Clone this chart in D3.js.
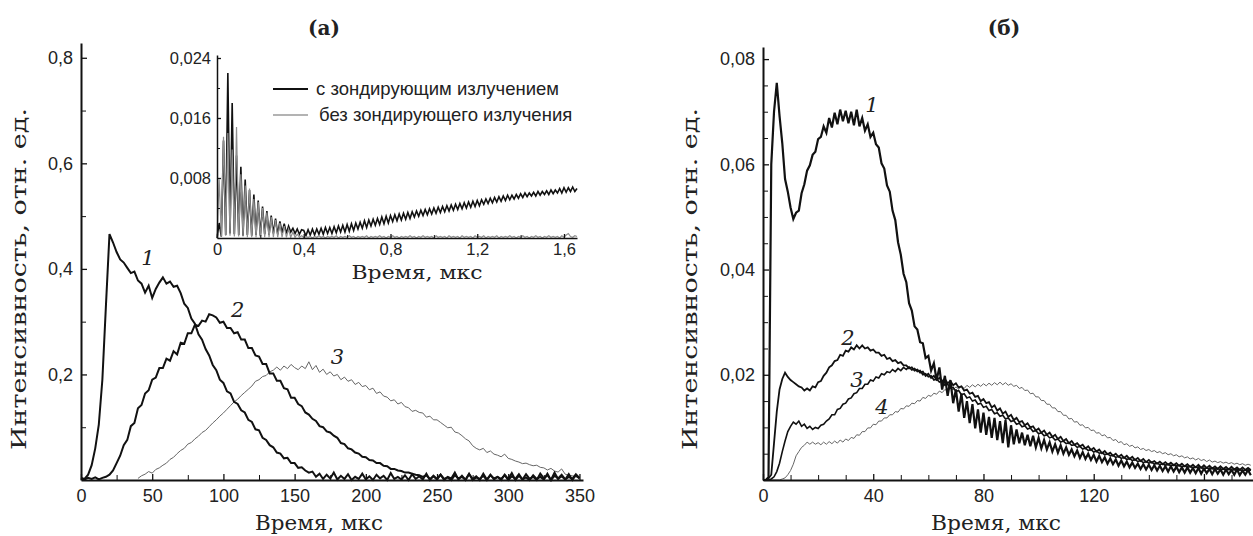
<!DOCTYPE html>
<html>
<head>
<meta charset="utf-8">
<script src="https://cdn.jsdelivr.net/npm/d3@7"></script>
<style>
  body { margin: 0; background: #fff; }
  svg { display: block; }
  .tick text { font-family: "Liberation Sans", Arial, sans-serif; fill: #222; }
  .axis path, .axis line { stroke: #111; }
  .serif { font-family: "DejaVu Serif", "Liberation Serif", serif; fill: #222; }
</style>
</head>
<body>
<div id="chart"></div>
<script>
// ---------- (а) main panel: time grid 0..350 мкс, step 2.5 ----------
const leftTime = d3.range(0, 351, 2.5);
const leftCurve1 = [
  0.004, 0.002, 0.010, 0.028, 0.060, 0.105, 0.190, 0.330, 0.466, 0.450,
  0.432, 0.418, 0.412, 0.402, 0.392, 0.395, 0.378, 0.372, 0.355, 0.368,
  0.345, 0.362, 0.374, 0.384, 0.372, 0.376, 0.366, 0.368, 0.354, 0.334,
  0.326, 0.306, 0.296, 0.276, 0.266, 0.248, 0.236, 0.218, 0.208, 0.190,
  0.184, 0.168, 0.164, 0.148, 0.144, 0.132, 0.128, 0.114, 0.110, 0.096,
  0.094, 0.080, 0.076, 0.066, 0.062, 0.052, 0.050, 0.041, 0.042, 0.032,
  0.032, 0.023, 0.024, 0.018, 0.014, 0.016, 0.006, 0.012, 0.002, 0.010,
  0.003, 0.014, 0.001, 0.008, 0.002, 0.011, 0.000, 0.006, 0.002, 0.012,
  0.001, 0.007, 0.000, 0.010, 0.003, 0.008, 0.000, 0.013, 0.002, 0.006,
  0.001, 0.009, 0.000, 0.011, 0.002, 0.007, 0.001, 0.012, 0.000, 0.008,
  0.002, 0.010, 0.000, 0.006, 0.003, 0.014, 0.001, 0.008, 0.000, 0.011,
  0.002, 0.007, 0.000, 0.012, 0.001, 0.009, 0.003, 0.006, 0.000, 0.010,
  0.002, 0.013, 0.000, 0.008, 0.001, 0.011, 0.002, 0.006, 0.000, 0.012,
  0.003, 0.009, 0.000, 0.014, 0.002, 0.007, 0.001, 0.011, 0.000, 0.009,
  0.003
];
const leftCurve2 = [
  0.003, 0.001, 0.004, 0.002, 0.005, 0.001, 0.004, 0.006, 0.010, 0.018,
  0.032, 0.046, 0.066, 0.076, 0.102, 0.108, 0.136, 0.142, 0.164, 0.170,
  0.190, 0.194, 0.212, 0.212, 0.230, 0.226, 0.244, 0.238, 0.260, 0.258,
  0.278, 0.278, 0.294, 0.292, 0.302, 0.300, 0.314, 0.312, 0.308, 0.298,
  0.300, 0.288, 0.288, 0.278, 0.280, 0.266, 0.266, 0.250, 0.250, 0.236,
  0.234, 0.220, 0.220, 0.202, 0.202, 0.188, 0.188, 0.174, 0.172, 0.156,
  0.156, 0.144, 0.140, 0.128, 0.124, 0.116, 0.112, 0.102, 0.100, 0.092,
  0.090, 0.084, 0.080, 0.070, 0.068, 0.060, 0.058, 0.052, 0.050, 0.044,
  0.043, 0.038, 0.037, 0.032, 0.032, 0.027, 0.026, 0.021, 0.021, 0.018,
  0.017, 0.014, 0.014, 0.012, 0.010, 0.009, 0.006, 0.009, 0.002, 0.007,
  0.001, 0.010, 0.002, 0.005, 0.000, 0.009, 0.003, 0.006, 0.001, 0.012,
  0.000, 0.005, 0.002, 0.008, 0.000, 0.010, 0.001, 0.006, 0.002, 0.009,
  0.000, 0.007, 0.002, 0.011, 0.001, 0.005, 0.000, 0.009, 0.002, 0.006,
  0.001, 0.012, 0.000, 0.008, 0.003, 0.010, 0.001, 0.006, 0.002, 0.011,
  0.004
];
const leftCurve3 = [
  null, null, null, null, null, null, null, null, null, null,
  null, null, null, null, null, null, 0.003, 0.008, 0.011, 0.016,
  0.013, 0.020, 0.023, 0.028, 0.032, 0.039, 0.043, 0.050, 0.056, 0.060,
  0.068, 0.071, 0.078, 0.083, 0.090, 0.094, 0.101, 0.108, 0.114, 0.121,
  0.127, 0.134, 0.141, 0.148, 0.153, 0.160, 0.166, 0.172, 0.178, 0.187,
  0.190, 0.196, 0.198, 0.205, 0.208, 0.214, 0.208, 0.216, 0.211, 0.219,
  0.213, 0.209, 0.216, 0.211, 0.224, 0.209, 0.217, 0.204, 0.210, 0.200,
  0.205, 0.197, 0.200, 0.190, 0.195, 0.187, 0.190, 0.181, 0.185, 0.177,
  0.179, 0.171, 0.174, 0.164, 0.167, 0.159, 0.157, 0.150, 0.152, 0.144,
  0.147, 0.139, 0.137, 0.130, 0.132, 0.128, 0.127, 0.119, 0.121, 0.114,
  0.114, 0.109, 0.104, 0.099, 0.100, 0.091, 0.089, 0.084, 0.078, 0.074,
  0.065, 0.060, 0.057, 0.060, 0.052, 0.055, 0.049, 0.047, 0.044, 0.049,
  0.041, 0.039, 0.036, 0.034, 0.031, 0.032, 0.029, 0.027, 0.028, 0.024,
  0.023, 0.019, 0.022, 0.017, 0.015, 0.021, 0.011, 0.009, 0.008, 0.006,
  0.004
];
const leftYTicks = [0.2, 0.4, 0.6, 0.8];
const leftXTicks = [0, 50, 100, 150, 200, 250, 300, 350];

// ---------- inset: time grid 0..1.66 мкс, step 0.01 ----------
const insetTime = d3.range(0, 1.665, 0.01);
const insetWithProbe = [
  0.0000, 0.0020, 0.0002, 0.0130, 0.0004, 0.0220, 0.0006, 0.0180, 0.0005, 0.0110,
  0.0004, 0.0095, 0.0003, 0.0078, 0.0004, 0.0064, 0.0003, 0.0058, 0.0004, 0.0050,
  0.0003, 0.0042, 0.0005, 0.0036, 0.0004, 0.0030, 0.0006, 0.0026, 0.0005, 0.0022,
  0.0007, 0.0019, 0.0006, 0.0016, 0.0008, 0.0013, 0.0006, 0.0012, 0.0005, 0.0011,
  0.0010, 0.0003, 0.0011, 0.0004, 0.0012, 0.0004, 0.0012, 0.0005, 0.0013, 0.0005,
  0.0014, 0.0006, 0.0014, 0.0006, 0.0015, 0.0007, 0.0016, 0.0008, 0.0017, 0.0008,
  0.0018, 0.0009, 0.0019, 0.0010, 0.0020, 0.0012, 0.0021, 0.0013, 0.0023, 0.0014,
  0.0024, 0.0016, 0.0025, 0.0017, 0.0026, 0.0018, 0.0028, 0.0019, 0.0029, 0.0020,
  0.0030, 0.0022, 0.0031, 0.0023, 0.0032, 0.0024, 0.0033, 0.0025, 0.0034, 0.0026,
  0.0035, 0.0028, 0.0036, 0.0029, 0.0037, 0.0030, 0.0038, 0.0031, 0.0039, 0.0032,
  0.0040, 0.0033, 0.0041, 0.0034, 0.0042, 0.0035, 0.0043, 0.0036, 0.0044, 0.0037,
  0.0045, 0.0038, 0.0046, 0.0039, 0.0047, 0.0040, 0.0048, 0.0041, 0.0049, 0.0042,
  0.0050, 0.0043, 0.0051, 0.0045, 0.0052, 0.0046, 0.0053, 0.0047, 0.0054, 0.0048,
  0.0055, 0.0049, 0.0056, 0.0050, 0.0057, 0.0051, 0.0057, 0.0052, 0.0058, 0.0053,
  0.0059, 0.0054, 0.0060, 0.0055, 0.0060, 0.0056, 0.0061, 0.0056, 0.0062, 0.0057,
  0.0062, 0.0058, 0.0063, 0.0058, 0.0064, 0.0059, 0.0064, 0.0060, 0.0066, 0.0060,
  0.0067, 0.0061, 0.0067, 0.0062, 0.0068, 0.0062, 0.0066
];
const insetWithoutProbe = [
  0.0000, 0.0078, 0.0002, 0.0135, 0.0003, 0.0140, 0.0003, 0.0118, 0.0002, 0.0148,
  0.0002, 0.0085, 0.0002, 0.0070, 0.0001, 0.0066, 0.0001, 0.0052, 0.0001, 0.0048,
  0.0001, 0.0040, 0.0001, 0.0034, 0.0001, 0.0028, 0.0001, 0.0024, 0.0001, 0.0020,
  0.0001, 0.0016, 0.0001, 0.0012, 0.0001, 0.0008, 0.0001, 0.0005, 0.0001, 0.0003,
  0.0001, 0.0002, 0.0001, 0.0002, 0.0000, 0.0002, 0.0001, 0.0003, 0.0001, 0.0002,
  0.0000, 0.0002, 0.0001, 0.0002, 0.0001, 0.0003, 0.0000, 0.0002, 0.0001, 0.0002,
  0.0001, 0.0003, 0.0001, 0.0002, 0.0000, 0.0002, 0.0001, 0.0002, 0.0001, 0.0003,
  0.0000, 0.0002, 0.0001, 0.0002, 0.0001, 0.0003, 0.0001, 0.0002, 0.0000, 0.0002,
  0.0001, 0.0003, 0.0001, 0.0002, 0.0000, 0.0002, 0.0001, 0.0002, 0.0001, 0.0003,
  0.0001, 0.0002, 0.0000, 0.0002, 0.0001, 0.0003, 0.0001, 0.0002, 0.0001, 0.0002,
  0.0000, 0.0003, 0.0001, 0.0002, 0.0001, 0.0002, 0.0000, 0.0003, 0.0001, 0.0002,
  0.0001, 0.0002, 0.0000, 0.0003, 0.0001, 0.0002, 0.0001, 0.0002, 0.0000, 0.0003,
  0.0001, 0.0002, 0.0001, 0.0003, 0.0000, 0.0002, 0.0001, 0.0002, 0.0001, 0.0003,
  0.0000, 0.0002, 0.0001, 0.0002, 0.0001, 0.0003, 0.0001, 0.0002, 0.0000, 0.0002,
  0.0001, 0.0003, 0.0001, 0.0002, 0.0000, 0.0002, 0.0001, 0.0003, 0.0001, 0.0002,
  0.0000, 0.0002, 0.0001, 0.0003, 0.0001, 0.0002, 0.0001, 0.0002, 0.0000, 0.0003,
  0.0001, 0.0004, 0.0006, 0.0002, 0.0001, 0.0003, 0.0002
];
const insetYTicks = [0.008, 0.016, 0.024];
const insetXTicks = [0, 0.4, 0.8, 1.2, 1.6];
const insetLegend = ["с зондирующим излучением", "без зондирующего излучения"];

// ---------- (б) panel: time grid 0..177 мкс, step 1 ----------
const rightTime = d3.range(0, 178, 1);
const rightCurve1 = [
  0, 0, 0.0005, 0.0600, 0.0700, 0.0755, 0.0692, 0.0640, 0.0572, 0.0548,
  0.0518, 0.0496, 0.0508, 0.0512, 0.0545, 0.0562, 0.0588, 0.0598, 0.0618, 0.0624,
  0.0648, 0.0652, 0.0672, 0.0660, 0.0688, 0.0670, 0.0698, 0.0676, 0.0704, 0.0682,
  0.0702, 0.0678, 0.0700, 0.0674, 0.0704, 0.0672, 0.0688, 0.0664, 0.0676, 0.0652,
  0.0660, 0.0638, 0.0632, 0.0602, 0.0592, 0.0560, 0.0548, 0.0512, 0.0494, 0.0452,
  0.0428, 0.0392, 0.0376, 0.0336, 0.0322, 0.0292, 0.0286, 0.0262, 0.0260, 0.0232,
  0.0236, 0.0208, 0.0222, 0.0190, 0.0214, 0.0172, 0.0198, 0.0160, 0.0190, 0.0146,
  0.0172, 0.0130, 0.0164, 0.0118, 0.0150, 0.0108, 0.0144, 0.0098, 0.0134, 0.0090,
  0.0128, 0.0086, 0.0120, 0.0080, 0.0118, 0.0076, 0.0112, 0.0070, 0.0114, 0.0062,
  0.0104, 0.0068, 0.0096, 0.0070, 0.0090, 0.0066, 0.0086, 0.0064, 0.0084, 0.0062,
  0.0080, 0.0060, 0.0076, 0.0058, 0.0072, 0.0054, 0.0068, 0.0052, 0.0066, 0.0050,
  0.0062, 0.0048, 0.0058, 0.0045, 0.0056, 0.0042, 0.0053, 0.0040, 0.0050, 0.0038,
  0.0048, 0.0035, 0.0046, 0.0034, 0.0043, 0.0031, 0.0041, 0.0030, 0.0039, 0.0027,
  0.0037, 0.0026, 0.0035, 0.0024, 0.0033, 0.0023, 0.0031, 0.0021, 0.0030, 0.0020,
  0.0029, 0.0019, 0.0028, 0.0018, 0.0027, 0.0017, 0.0026, 0.0016, 0.0026, 0.0016,
  0.0025, 0.0015, 0.0024, 0.0014, 0.0024, 0.0014, 0.0023, 0.0013, 0.0023, 0.0012,
  0.0022, 0.0013, 0.0021, 0.0011, 0.0021, 0.0012, 0.0020, 0.0010, 0.0020, 0.0011,
  0.0019, 0.0010, 0.0020, 0.0009, 0.0018, 0.0010, 0.0019, 0.0009
];
const rightCurve2 = [
  0, 0, 0.0003, 0.0010, 0.0070, 0.0130, 0.0172, 0.0192, 0.0204, 0.0196,
  0.0190, 0.0186, 0.0182, 0.0178, 0.0176, 0.0170, 0.0174, 0.0170, 0.0178, 0.0176,
  0.0186, 0.0188, 0.0198, 0.0204, 0.0214, 0.0218, 0.0226, 0.0228, 0.0238, 0.0236,
  0.0246, 0.0244, 0.0252, 0.0248, 0.0256, 0.0250, 0.0256, 0.0250, 0.0252, 0.0246,
  0.0248, 0.0242, 0.0242, 0.0236, 0.0238, 0.0230, 0.0232, 0.0226, 0.0228, 0.0222,
  0.0224, 0.0218, 0.0218, 0.0212, 0.0214, 0.0208, 0.0210, 0.0204, 0.0206, 0.0198,
  0.0202, 0.0194, 0.0198, 0.0190, 0.0194, 0.0188, 0.0192, 0.0184, 0.0188, 0.0180,
  0.0184, 0.0176, 0.0178, 0.0170, 0.0172, 0.0164, 0.0166, 0.0158, 0.0160, 0.0150,
  0.0154, 0.0146, 0.0148, 0.0138, 0.0142, 0.0132, 0.0136, 0.0126, 0.0130, 0.0120,
  0.0124, 0.0114, 0.0118, 0.0110, 0.0112, 0.0104, 0.0108, 0.0100, 0.0102, 0.0094,
  0.0098, 0.0090, 0.0094, 0.0086, 0.0090, 0.0082, 0.0086, 0.0078, 0.0082, 0.0074,
  0.0078, 0.0070, 0.0074, 0.0067, 0.0070, 0.0064, 0.0067, 0.0060, 0.0064, 0.0057,
  0.0061, 0.0054, 0.0058, 0.0051, 0.0055, 0.0049, 0.0052, 0.0046, 0.0050, 0.0044,
  0.0048, 0.0042, 0.0046, 0.0040, 0.0044, 0.0038, 0.0042, 0.0036, 0.0040, 0.0034,
  0.0038, 0.0033, 0.0036, 0.0031, 0.0035, 0.0030, 0.0034, 0.0029, 0.0033, 0.0028,
  0.0032, 0.0027, 0.0031, 0.0026, 0.0030, 0.0025, 0.0029, 0.0024, 0.0029, 0.0023,
  0.0028, 0.0023, 0.0027, 0.0022, 0.0026, 0.0021, 0.0026, 0.0021, 0.0025, 0.0020,
  0.0025, 0.0020, 0.0024, 0.0019, 0.0024, 0.0019, 0.0023, 0.0019
];
const rightCurve3 = [
  0, 0, 0, 0.0002, 0.0006, 0.0016, 0.0032, 0.0054, 0.0074, 0.0092,
  0.0102, 0.0110, 0.0106, 0.0112, 0.0102, 0.0106, 0.0098, 0.0102, 0.0096, 0.0100,
  0.0098, 0.0104, 0.0106, 0.0112, 0.0116, 0.0124, 0.0124, 0.0134, 0.0136, 0.0144,
  0.0146, 0.0154, 0.0156, 0.0164, 0.0166, 0.0174, 0.0174, 0.0182, 0.0182, 0.0190,
  0.0188, 0.0196, 0.0194, 0.0202, 0.0200, 0.0206, 0.0204, 0.0210, 0.0206, 0.0212,
  0.0208, 0.0214, 0.0210, 0.0215, 0.0209, 0.0212, 0.0206, 0.0208, 0.0200, 0.0202,
  0.0196, 0.0198, 0.0190, 0.0192, 0.0186, 0.0188, 0.0180, 0.0182, 0.0175, 0.0176,
  0.0168, 0.0170, 0.0162, 0.0164, 0.0156, 0.0158, 0.0150, 0.0152, 0.0144, 0.0146,
  0.0138, 0.0140, 0.0132, 0.0134, 0.0126, 0.0128, 0.0121, 0.0123, 0.0116, 0.0118,
  0.0111, 0.0113, 0.0106, 0.0108, 0.0101, 0.0103, 0.0097, 0.0099, 0.0092, 0.0094,
  0.0088, 0.0090, 0.0084, 0.0086, 0.0080, 0.0082, 0.0076, 0.0078, 0.0072, 0.0074,
  0.0069, 0.0071, 0.0066, 0.0067, 0.0062, 0.0064, 0.0059, 0.0061, 0.0056, 0.0058,
  0.0053, 0.0055, 0.0051, 0.0052, 0.0048, 0.0050, 0.0046, 0.0047, 0.0043, 0.0045,
  0.0041, 0.0043, 0.0039, 0.0041, 0.0037, 0.0039, 0.0035, 0.0037, 0.0033, 0.0035,
  0.0032, 0.0034, 0.0030, 0.0032, 0.0029, 0.0031, 0.0028, 0.0030, 0.0027, 0.0029,
  0.0026, 0.0028, 0.0025, 0.0027, 0.0024, 0.0026, 0.0023, 0.0025, 0.0022, 0.0024,
  0.0021, 0.0023, 0.0021, 0.0022, 0.0020, 0.0022, 0.0019, 0.0021, 0.0019, 0.0021,
  0.0018, 0.0020, 0.0018, 0.0020, 0.0017, 0.0019, 0.0017, 0.0019
];
const rightCurve4 = [
  0, 0, 0, 0, 0, 0, 0, 0.0002, 0.0004, 0.0010,
  0.0018, 0.0030, 0.0046, 0.0054, 0.0062, 0.0066, 0.0072, 0.0068, 0.0072, 0.0068,
  0.0071, 0.0067, 0.0072, 0.0068, 0.0073, 0.0069, 0.0074, 0.0070, 0.0076, 0.0072,
  0.0078, 0.0075, 0.0081, 0.0079, 0.0086, 0.0085, 0.0092, 0.0092, 0.0099, 0.0099,
  0.0106, 0.0105, 0.0112, 0.0112, 0.0118, 0.0118, 0.0124, 0.0124, 0.0130, 0.0129,
  0.0136, 0.0135, 0.0141, 0.0140, 0.0146, 0.0145, 0.0151, 0.0150, 0.0157, 0.0155,
  0.0161, 0.0159, 0.0165, 0.0163, 0.0169, 0.0166, 0.0172, 0.0169, 0.0175, 0.0171,
  0.0177, 0.0173, 0.0178, 0.0174, 0.0180, 0.0176, 0.0181, 0.0177, 0.0182, 0.0178,
  0.0183, 0.0179, 0.0184, 0.0180, 0.0185, 0.0181, 0.0186, 0.0181, 0.0185, 0.0180,
  0.0183, 0.0178, 0.0180, 0.0174, 0.0176, 0.0170, 0.0171, 0.0164, 0.0165, 0.0158,
  0.0158, 0.0151, 0.0151, 0.0144, 0.0144, 0.0137, 0.0137, 0.0130, 0.0130, 0.0123,
  0.0123, 0.0116, 0.0117, 0.0110, 0.0111, 0.0104, 0.0105, 0.0099, 0.0100, 0.0094,
  0.0095, 0.0089, 0.0090, 0.0084, 0.0086, 0.0080, 0.0081, 0.0075, 0.0077, 0.0071,
  0.0073, 0.0067, 0.0069, 0.0064, 0.0066, 0.0061, 0.0063, 0.0058, 0.0060, 0.0056,
  0.0058, 0.0054, 0.0056, 0.0052, 0.0054, 0.0050, 0.0052, 0.0048, 0.0050, 0.0046,
  0.0048, 0.0044, 0.0046, 0.0042, 0.0044, 0.0040, 0.0042, 0.0038, 0.0041, 0.0037,
  0.0039, 0.0035, 0.0038, 0.0034, 0.0036, 0.0033, 0.0035, 0.0032, 0.0034, 0.0031,
  0.0033, 0.0030, 0.0032, 0.0029, 0.0031, 0.0028, 0.0030, 0.0028
];
const rightYTicks = [0.02, 0.04, 0.06, 0.08];
const rightXTicks = [0, 40, 80, 120, 160];

const xLabel = "Время, мкс";
const yLabel = "Интенсивность, отн. ед.";

// ---------- drawing ----------
const W = 1253, H = 536;
const svg = d3.select("#chart").append("svg").attr("width", W).attr("height", H);
const ru = d3.formatLocale({ decimal: ",", thousands: " ", grouping: [3], currency: ["", ""] });

function zip(ts, vs) { return ts.map((t, i) => [t, vs[i]]); }

function drawAxes(x, y, opt) {
    // minor ticks
    svg.append("g").attr("class", "axis")
        .attr("transform", `translate(0,${y.range()[0]})`)
        .call(d3.axisBottom(x).tickValues(opt.xMinor).tickSize(-opt.minor).tickSizeOuter(0).tickFormat(""))
        .call(g => g.select(".domain").remove());
    svg.append("g").attr("class", "axis")
        .attr("transform", `translate(${x.range()[0]},0)`)
        .call(d3.axisLeft(y).tickValues(opt.yMinor).tickSize(-opt.minor).tickSizeOuter(0).tickFormat(""))
        .call(g => g.select(".domain").remove());
    // major ticks + domains
    const gx = svg.append("g").attr("class", "axis")
        .attr("transform", `translate(0,${y.range()[0]})`)
        .call(d3.axisBottom(x).tickValues(opt.xTicks).tickSize(-opt.major).tickSizeOuter(0)
            .tickPadding(opt.xPad).tickFormat(opt.xFmt));
    gx.select(".domain").attr("stroke-width", opt.sw);
    gx.selectAll(".tick line").attr("stroke-width", 1.3);
    gx.selectAll(".tick text").style("font-size", opt.fs + "px");
    const gy = svg.append("g").attr("class", "axis")
        .attr("transform", `translate(${x.range()[0]},0)`)
        .call(d3.axisLeft(y).tickValues(opt.yTicks).tickSize(-opt.major).tickSizeOuter(0)
            .tickPadding(opt.yPad).tickFormat(opt.yFmt));
    gy.select(".domain").attr("stroke-width", opt.sw);
    gy.selectAll(".tick line").attr("stroke-width", 1.3);
    gy.selectAll(".tick text").style("font-size", opt.fs + "px");
}

function drawLine(x, y, data, color, width) {
    const line = d3.line()
        .defined(d => d[1] != null)
        .x(d => x(d[0]))
        .y(d => y(d[1]));
    svg.append("path").datum(data)
        .attr("fill", "none").attr("stroke", color).attr("stroke-width", width)
        .attr("stroke-linejoin", "miter").attr("d", line);
}

function label(txt, x, y, size, len) {
    const t = svg.append("text").attr("class", "serif").attr("x", x).attr("y", y)
        .attr("text-anchor", "middle").style("font-size", size + "px").text(txt);
    if (len) t.attr("textLength", len).attr("lengthAdjust", "spacingAndGlyphs");
    return t;
}

// (а) main
const xL = d3.scaleLinear().domain([0, 352.5]).range([81, 583]);
const yL = d3.scaleLinear().domain([0, 0.828]).range([480, 43]);
drawLine(xL, yL, zip(leftTime, leftCurve3), "#666", 1);
drawLine(xL, yL, zip(leftTime, leftCurve2), "#111", 2);
drawLine(xL, yL, zip(leftTime, leftCurve1), "#111", 2);
drawAxes(xL, yL, {
    xTicks: leftXTicks, xMinor: d3.range(25, 351, 50),
    yTicks: leftYTicks, yMinor: [0.1, 0.3, 0.5, 0.7],
    major: 6, minor: 5, sw: 2, xPad: 9, yPad: 8, fs: 18,
    xFmt: ru.format("d"), yFmt: ru.format(".1f")
});

// inset: black trace first, grey trace drawn over it
const xI = d3.scaleLinear().domain([0, 1.66]).range([217, 577]);
const yI = d3.scaleLinear().domain([0, 0.0244]).range([238, 55]);
drawLine(xI, yI, zip(insetTime, insetWithProbe), "#111", 1.6);
drawLine(xI, yI, zip(insetTime, insetWithoutProbe), "#8f8f8f", 1.2);
drawAxes(xI, yI, {
    xTicks: insetXTicks, xMinor: [0.2, 0.6, 1.0, 1.4],
    yTicks: insetYTicks, yMinor: [0.004, 0.012, 0.020],
    major: 4, minor: 3, sw: 1.5, xPad: 5, yPad: 6, fs: 16.5,
    xFmt: d => d === 0 ? "0" : ru.format(".1f")(d), yFmt: ru.format(".3f")
});

// inset legend
const legend = svg.append("g").attr("transform", "translate(273,89)");
insetLegend.forEach((name, i) => {
    const row = legend.append("g").attr("transform", `translate(0,${i * 26})`);
    row.append("line").attr("x1", 0).attr("x2", 35).attr("y1", 0).attr("y2", 0)
        .attr("stroke", i === 0 ? "#111" : "#9a9a9a").attr("stroke-width", i === 0 ? 2 : 1.3);
    row.append("text").attr("x", i === 0 ? 43 : 46).attr("y", 6)
        .style("font-family", '"Liberation Sans", Arial, sans-serif')
        .style("font-size", "18.5px").style("fill", "#222").text(name);
});

// (б)
const xR = d3.scaleLinear().domain([0, 177.8]).range([763, 1253]);
const yR = d3.scaleLinear().domain([0, 0.0823]).range([480, 47]);
drawLine(xR, yR, zip(rightTime, rightCurve4), "#666", 1);
drawLine(xR, yR, zip(rightTime, rightCurve3), "#111", 1.6);
drawLine(xR, yR, zip(rightTime, rightCurve2), "#111", 1.8);
drawLine(xR, yR, zip(rightTime, rightCurve1), "#111", 2.2);
drawAxes(xR, yR, {
    xTicks: rightXTicks, xMinor: d3.range(10, 178, 10).filter(v => v % 40 !== 0),
    yTicks: rightYTicks, yMinor: [0.005, 0.01, 0.015, 0.025, 0.03, 0.035, 0.045, 0.05, 0.055, 0.065, 0.07, 0.075],
    major: 6, minor: 5, sw: 2, xPad: 9, yPad: 8, fs: 18,
    xFmt: ru.format("d"), yFmt: ru.format(".2f")
});

// titles and axis labels
label("(а)", 324, 35, 20).style("font-weight", "bold");
label("(б)", 1004, 35, 20).style("font-weight", "bold");
label(xLabel, 319, 530, 21, 128);
label(xLabel, 996, 530, 21, 130);
label(xLabel, 417, 279, 18, 131);
label(yLabel, 0, 0, 21, 342).attr("transform", "translate(26,279) rotate(-90)");
label(yLabel, 0, 0, 21, 342).attr("transform", "translate(697,279) rotate(-90)");

// curve numbers
const curveNames = [
    ["1", xL(47), yL(0.407)], ["2", xL(110), yL(0.309)], ["3", xL(180), yL(0.22)],
    ["1", xR(39.5), yR(0.0699)], ["2", xR(30.8), yR(0.0257)], ["3", xR(34.1), yR(0.0177)], ["4", xR(43.2), yR(0.0125)]
];
curveNames.forEach(([n, x, y]) => {
    label(n, x, y, 21).style("font-style", "italic");
});
</script>
</body>
</html>
